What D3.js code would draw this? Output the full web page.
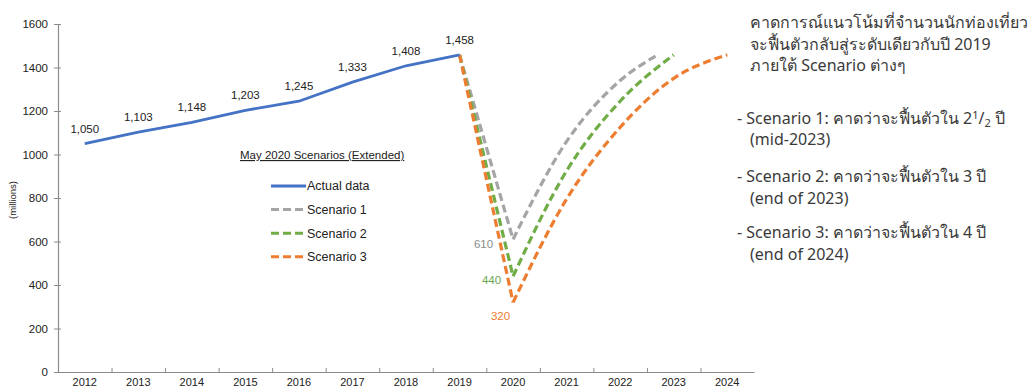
<!DOCTYPE html>
<html>
<head>
  <meta charset='utf-8'>
  <title>Tourist arrivals scenarios</title>
  <script src="https://cdnjs.cloudflare.com/ajax/libs/d3/7.8.5/d3.min.js"></script>
  <style>
    html, body { margin: 0; padding: 0; background: #fff; }
    svg { display: block; font-family: 'Liberation Sans', Arial, sans-serif; }
    .note { font-family: 'Noto Sans', 'Open Sans', sans-serif; fill: #3a3a3a; }
  </style>
</head>
<body>
  <svg id="chart"></svg>
  <script>
    // data
    const years = [2012, 2013, 2014, 2015, 2016, 2017, 2018, 2019, 2020, 2021, 2022, 2023, 2024];
    const actualYears = [2012, 2013, 2014, 2015, 2016, 2017, 2018, 2019];
    const actualValues = [1050, 1103, 1148, 1203, 1245, 1333, 1408, 1458];

    const scenario1Years = [2019, 2020, 2021, 2022, 2022.7];
    const scenario1Values = [1458, 610, 1060, 1340, 1458];
    const scenario2Years = [2019, 2020, 2021, 2022, 2023];
    const scenario2Values = [1458, 440, 925, 1245, 1458];
    const scenario3Years = [2019, 2020, 2021, 2022, 2023, 2024];
    const scenario3Values = [1458, 320, 795, 1125, 1350, 1458];

    const yTicks = [0, 200, 400, 600, 800, 1000, 1200, 1400, 1600];
    const seriesNames = ['Actual data', 'Scenario 1', 'Scenario 2', 'Scenario 3'];
    const seriesColors = ['#4472C4', '#A5A5A5', '#70AD47', '#ED7D31'];
    const labelColors = ['#333', '#8c8c8c', '#6aa84f', '#ED7D31'];

    const width = 1031, height = 387;
    const svg = d3.select('#chart').attr('width', width).attr('height', height);

    const x = d3.scaleLinear().domain([2011.5, 2024.5]).range([58, 754]);
    const y = d3.scaleLinear().domain([0, 1600]).range([372, 24]);

    const fmt = d3.format(',');

    // axes
    const yAxis = d3.axisLeft(y).tickValues(yTicks).tickFormat(d3.format('d'))
      .tickSizeInner(4).tickSizeOuter(0).tickPadding(6);
    const gy = svg.append('g').attr('transform', 'translate(58,0)').call(yAxis);
    gy.selectAll('.tick line').attr('x2', 3).attr('x1', -4);
    gy.select('.domain').attr('stroke', '#8c8c8c').attr('stroke-width', 1.2);
    gy.selectAll('.tick line').attr('stroke', '#8c8c8c');
    gy.selectAll('text').attr('font-size', 11.5).attr('fill', '#222').attr('font-family', 'Liberation Sans, Arial, sans-serif');

    const boundaries = d3.range(2011.5, 2025, 1).slice(1, -1);
    const xAxis = d3.axisBottom(x).tickValues(boundaries).tickSizeInner(-4).tickSizeOuter(0).tickFormat('');
    const gx = svg.append('g').attr('transform', 'translate(0,372)').call(xAxis);
    gx.select('.domain').attr('stroke', '#8c8c8c').attr('stroke-width', 1.2);
    gx.selectAll('.tick line').attr('stroke', '#8c8c8c');

    svg.append('g').selectAll('text').data(years).join('text')
      .attr('x', d => x(d)).attr('y', 385.5)
      .attr('text-anchor', 'middle').attr('font-size', 11).attr('fill', '#222')
      .text(d => d);

    svg.append('text')
      .attr('transform', 'translate(16,200) rotate(-90)')
      .attr('text-anchor', 'middle').attr('font-size', 9.5).attr('fill', '#222')
      .text('(millions)');

    // lines
    const line = d3.line().x(d => x(d[0])).y(d => y(d[1]));
    const smooth = d3.line().x(d => x(d[0])).y(d => y(d[1])).curve(d3.curveMonotoneX);

    const scenarios = [
      { years: scenario1Years, values: scenario1Values, color: seriesColors[1], label: labelColors[1], dx: -20, dy: 5 },
      { years: scenario2Years, values: scenario2Values, color: seriesColors[2], label: labelColors[2], dx: -12, dy: 4 },
      { years: scenario3Years, values: scenario3Values, color: seriesColors[3], label: labelColors[3], dx: -3, dy: 14 }
    ];

    scenarios.forEach(s => {
      const pts = s.years.map((yr, i) => [yr, s.values[i]]);
      // the drop 2019 -> 2020 is straight, the recovery is smoothed
      svg.append('path').attr('d', line(pts.slice(0, 2)))
        .attr('fill', 'none').attr('stroke', s.color).attr('stroke-width', 3.2)
        .attr('stroke-dasharray', '8,4');
      svg.append('path').attr('d', smooth(pts.slice(1)))
        .attr('fill', 'none').attr('stroke', s.color).attr('stroke-width', 3.2)
        .attr('stroke-dasharray', '8,4');
      svg.append('text')
        .attr('x', x(pts[1][0]) + s.dx).attr('y', y(pts[1][1]) + s.dy)
        .attr('dy', '0.35em').attr('text-anchor', 'end')
        .attr('font-size', 11.5).attr('fill', s.label)
        .text(fmt(pts[1][1]));
    });

    const actual = actualYears.map((yr, i) => [yr, actualValues[i]]);
    svg.append('path').attr('d', line(actual))
      .attr('fill', 'none').attr('stroke', seriesColors[0]).attr('stroke-width', 2.8);

    svg.append('g').selectAll('text').data(actual).join('text')
      .attr('x', d => x(d[0])).attr('y', d => y(d[1]) - 11)
      .attr('text-anchor', 'middle').attr('font-size', 11.5).attr('fill', '#222')
      .text(d => fmt(d[1]));

    // legend
    const legend = svg.append('g');
    legend.append('text').attr('x', 240).attr('y', 159)
      .attr('font-size', 11.5).attr('fill', '#222')
      .attr('text-decoration', 'underline')
      .text('May 2020 Scenarios (Extended)');
    seriesNames.forEach((name, i) => {
      const ly = 186 + i * 23.6;
      legend.append('line').attr('x1', 271).attr('x2', 306).attr('y1', ly).attr('y2', ly)
        .attr('stroke', seriesColors[i]).attr('stroke-width', i === 0 ? 2.8 : 3)
        .attr('stroke-dasharray', i === 0 ? null : '8,4');
      legend.append('text').attr('x', 307).attr('y', ly).attr('dy', '0.35em')
        .attr('font-size', 12.5).attr('fill', '#222').text(name);
    });

    // notes on the right
    const notes = svg.append('g').attr('class', 'note').attr('font-size', 16);
    const heading = ['คาดการณ์แนวโน้มที่จำนวนนักท่องเที่ยว', 'จะฟื้นตัวกลับสู่ระดับเดียวกับปี 2019', 'ภายใต้ Scenario ต่างๆ'];
    heading.forEach((t, i) => {
      notes.append('text').attr('x', 750).attr('y', 28 + i * 21.5).text(t);
    });

    const s1 = notes.append('text').attr('x', 737).attr('y', 124);
    s1.append('tspan').text('- Scenario 1: คาดว่าจะฟื้นตัวใน 2');
    s1.append('tspan').attr('font-size', 11).attr('dy', -5).text('1');
    s1.append('tspan').attr('dy', 5).text('/');
    s1.append('tspan').attr('font-size', 11).attr('dy', 3).text('2');
    s1.append('tspan').attr('dy', -3).text(' ปี');
    notes.append('text').attr('x', 750).attr('y', 145).text('(mid-2023)');

    notes.append('text').attr('x', 737).attr('y', 182).text('- Scenario 2: คาดว่าจะฟื้นตัวใน 3 ปี');
    notes.append('text').attr('x', 750).attr('y', 204).text('(end of 2023)');
    notes.append('text').attr('x', 737).attr('y', 238).text('- Scenario 3: คาดว่าจะฟื้นตัวใน 4 ปี');
    notes.append('text').attr('x', 750).attr('y', 260).text('(end of 2024)');
  </script>
</body>
</html>
